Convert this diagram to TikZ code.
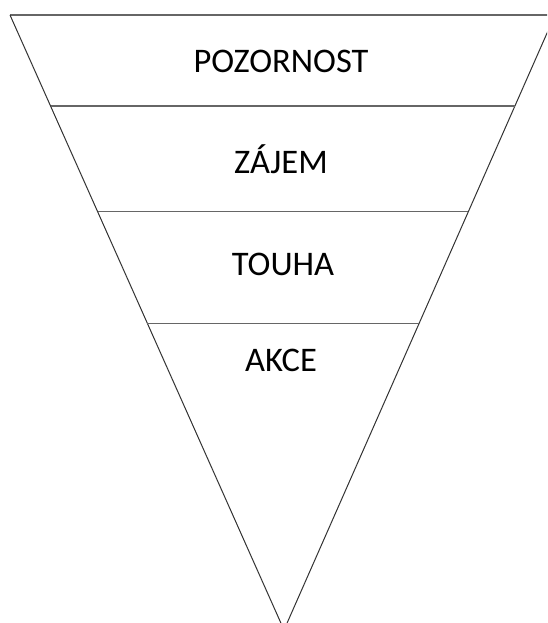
\documentclass[tikz,border=0pt]{standalone}
\usepackage{fontspec}
\setmainfont{Carlito}
\usetikzlibrary{calc}
\tikzset{
	side/.style={draw=black!80, line width=1pt},
	level/.style={draw=black!60, line width=1.2pt},
	stage/.style={anchor=base, inner sep=0pt, font=\fontsize{34.5}{38}\selectfont}
}

\begin{document}
\begin{tikzpicture}[x=1pt, y=-1pt]

	\useasboundingbox (0, 0) rectangle (547, 623);
	\clip (0, 0) rectangle (547, 623);

	\coordinate (tl) at (10, 15);
	\coordinate (tr) at (555, 15);
	\coordinate (apex) at (284, 630);

	% funnel outline
	\draw[level] (tl) -- (tr);
	\draw[side] (tl) -- (apex) -- (tr);

	% levels
	\coordinate (l1) at ($(tl)!0.148!(apex)$);
	\coordinate (r1) at ($(tr)!0.148!(apex)$);
	\coordinate (l2) at ($(tl)!0.320!(apex)$);
	\coordinate (r2) at ($(tr)!0.320!(apex)$);
	\coordinate (l3) at ($(tl)!0.501!(apex)$);
	\coordinate (r3) at ($(tr)!0.501!(apex)$);

	\draw[level] (l1) -- (r1);
	\draw[level] (l2) -- (r2);
	\draw[level] (l3) -- (r3);

	% labels
	\node[stage] (pozornost) at (281, 73) {POZORNOST};
	\node[stage] (zajem) at (281, 173) {ZÁJEM};
	\node[stage] (touha) at (283, 275) {TOUHA};
	\node[stage] (akce) at (281, 371) {AKCE};

\end{tikzpicture}
\end{document}
